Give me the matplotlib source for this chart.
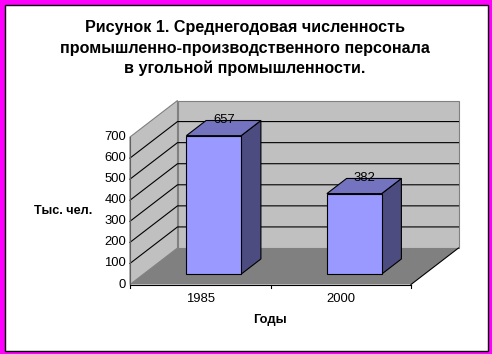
import matplotlib
matplotlib.use("Agg")
import matplotlib.pyplot as plt
from matplotlib.patches import Polygon, Rectangle

plt.rcParams['font.family'] = ['Liberation Sans', 'DejaVu Sans']

categories = ['1985', '2000']
values = [657, 382]
y_ticks = [0, 100, 200, 300, 400, 500, 600, 700]
title_lines = ['Рисунок 1. Среднегодовая численность',
               'промышленно-производственного персонала',
               'в угольной промышленности.']
y_label = 'Тыс. чел.'
x_label = 'Годы'

W, H = 492, 354
X0, Y0 = 130.0, 284.5      # front-left floor corner, pixels
CAT_W = 140.5              # pixels per category
V_K = 147.5 / 700          # pixels per value unit
DX, DY = 47.5, 36.5        # full depth offset, pixels
GAP = 0.305                # gap share either side of a bar
D0, D1 = 0.285, 0.70       # bar depth span
LW = 0.8


def proj(c, v, d=0.0):
    """Oblique projection of (category position, value, depth) to pixels."""
    return (X0 + c * CAT_W + d * DX, Y0 - v * V_K - d * DY)


fig = plt.figure(figsize=(W / 100, H / 100), dpi=100, facecolor='white')
ax = fig.add_axes([0, 0, 1, 1])
ax.set_xlim(0, W)
ax.set_ylim(H, 0)
ax.axis('off')

# page border
ax.add_patch(Rectangle((0, 0), W, H, fc='#FF00FF', ec='none', zorder=0))
ax.add_patch(Rectangle((5, 5), W - 9.5, H - 8.5, fc='white', ec='black', lw=1.0, zorder=0.5))

n = len(categories)
vmax = y_ticks[-1]
wall = '#C0C0C0'
floor = '#808080'
edge = '#808080'

# walls and floor
ax.add_patch(Polygon([proj(0, 0, 1), proj(n, 0, 1), proj(n, vmax, 1), proj(0, vmax, 1)],
                     fc=wall, ec=edge, lw=LW, zorder=1))
ax.add_patch(Polygon([proj(0, 0, 0), proj(0, 0, 1), proj(0, vmax, 1), proj(0, vmax, 0)],
                     fc=wall, ec=edge, lw=LW, zorder=1))
ax.add_patch(Polygon([proj(0, 0, 0), proj(n, 0, 0), proj(n, 0, 1), proj(0, 0, 1)],
                     fc=floor, ec='none', zorder=1.2))

# gridlines
for t in y_ticks[1:-1]:
    pts = [proj(0, t, 0), proj(0, t, 1), proj(n, t, 1)]
    ax.plot(*zip(*pts), color='black', lw=LW, zorder=1.5)

# axis lines and ticks
a, b = proj(0, 0, 0), proj(n, 0, 0)
ax.plot([a[0], b[0]], [a[1], b[1]], color='black', lw=LW, zorder=2)
c = proj(n, 0, 1)
ax.plot([b[0], c[0]], [b[1], c[1]], color='black', lw=LW, zorder=2)
top = proj(0, vmax, 0)
ax.plot([a[0], top[0]], [a[1], top[1]], color='#606060', lw=LW, zorder=2)

for t in y_ticks:
    px, py = proj(0, t, 0)
    ax.text(px - 4, py, str(t), ha='right', va='center', fontsize=9.4, color='black')
for i in range(n + 1):
    px, py = proj(i, 0, 0)
    ax.plot([px, px], [py, py + 3.5], color='black', lw=LW, zorder=2)
for i, cat in enumerate(categories):
    px, py = proj(i + 0.5, 0, 0)
    ax.text(px, py + 14, cat, ha='center', va='center', fontsize=9.4, color='black')

# bars
for i, v in enumerate(values):
    l, r = i + GAP, i + 1 - GAP
    side = [proj(r, 0, D0), proj(r, 0, D1), proj(r, v, D1), proj(r, v, D0)]
    topf = [proj(l, v, D0), proj(r, v, D0), proj(r, v, D1), proj(l, v, D1)]
    front = [proj(l, 0, D0), proj(r, 0, D0), proj(r, v, D0), proj(l, v, D0)]
    ax.add_patch(Polygon(side, fc='#4C4C80', ec='black', lw=LW, zorder=3))
    ax.add_patch(Polygon(topf, fc='#7373BF', ec='black', lw=LW, zorder=3))
    ax.add_patch(Polygon(front, fc='#9999FF', ec='black', lw=LW, zorder=3))
    px, py = proj(i + 0.5, v, 0.5)
    ax.text(px, py - 8, str(v), ha='center', va='center', fontsize=9.4, color='black', zorder=4)

# texts
for line, y in zip(title_lines, [27.5, 48, 68.5]):
    ax.text(245, y, line, ha='center', va='center', fontsize=11.6, fontweight='bold', color='black')
ax.text(63, 211, y_label, ha='center', va='center', fontsize=9.1, fontweight='bold', color='black')
ax.text(270, 320, x_label, ha='center', va='center', fontsize=9.3, fontweight='bold', color='black')

fig.savefig('out.png', dpi=100, facecolor='white')
